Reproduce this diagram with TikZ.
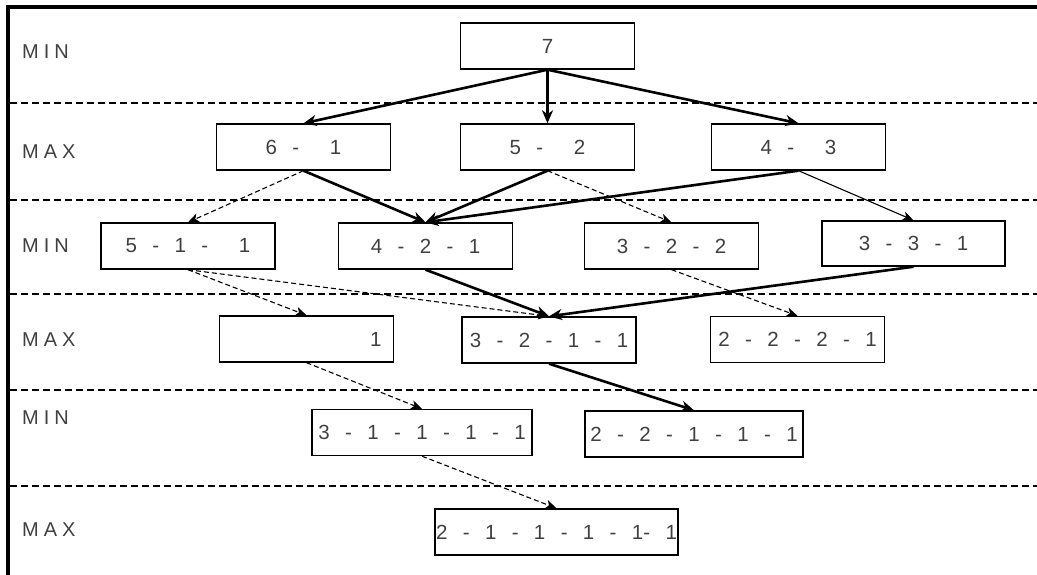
\documentclass[tikz,border=0pt]{standalone}
\usepackage{fontspec}
\setmainfont{Liberation Sans}
\newfontfamily\statefont[WordSpace=2.7]{Liberation Sans}
\newfontfamily\levelfont[LetterSpace=25]{Liberation Sans}
\usetikzlibrary{arrows.meta}

\begin{document}
\begin{tikzpicture}[x=1pt, y=-1pt,
  state/.style={draw, line width=1.4pt, minimum width=174pt, minimum height=46pt,
    inner sep=0pt, text=black!75, font=\statefont\fontsize{20.5}{24}\selectfont},
  best/.style={-{Stealth[length=13pt,width=11pt,inset=4pt]}, line width=2.6pt},
  plain/.style={-{Stealth[length=11pt,width=9pt,inset=3pt]}, line width=1.1pt},
  other/.style={plain, dash pattern=on 5pt off 3pt},
  level/.style={anchor=west, inner sep=0pt, text=black!75,
    font=\levelfont\fontsize{20}{24}\selectfont}]

  \useasboundingbox (0,0) rectangle (1037,575);

  \draw[line width=4.5pt] (8,575) -- (8,7) -- (1037,7);
  \foreach \y in {103,200,294,390,486}
    \draw[line width=1.2pt, dash pattern=on 7pt off 4pt] (10,\y) -- (1037,\y);

  \node[level] (lv1) at (22,52) {MIN};
  \node[level] (lv2) at (22,152) {MAX};
  \node[level] (lv3) at (22,246) {MIN};
  \node[level] (lv4) at (22,340) {MAX};
  \node[level] (lv5) at (22,418) {MIN};
  \node[level] (lv6) at (22,530) {MAX};

  \node[state] (n7) at (547.5,46) {7};

  \node[state] (n61) at (303.5,147) {6 -\ \ 1};
  \node[state] (n52) at (547.5,147) {5 -\ \ 2};
  \node[state] (n43) at (798.5,147) {4 -\ \ 3};

  \node[state] (n511) at (188,246) {5 - 1 -\ \ 1};
  \node[state] (n421) at (425.5,246) {4 - 2 - 1};
  \node[state] (n322) at (671.5,246) {3 - 2 - 2};
  \node[state, minimum width=183pt, minimum height=45pt] (n331) at (913.5,243.5) {3 - 3 - 1};

  \node[state, text width=150pt, align=right] (n1) at (306.5,339) {1};
  \node[state] (n3211) at (549,340) {3 - 2 - 1 - 1};
  \node[state] (n2221) at (797.5,339.5) {2 - 2 - 2 - 1};

  \node[state, minimum width=220pt] (n31111) at (422,432.5) {3 - 1 - 1 - 1 - 1};
  \node[state, minimum width=218pt] (n22111) at (694,434) {2 - 2 - 1 - 1 - 1};

  \node[state, minimum width=243pt] (n211111) at (556.5,532) {2 - 1 - 1 - 1 - 1- 1};

  \draw[best] (n7.south) -- (n61.north);
  \draw[best] (n7.south) -- (n52.north);
  \draw[best] (n7.south) -- (n43.north);

  \draw[best] (n61.south) -- (n421.north);
  \draw[best] (n52.south) -- (n421.north);
  \draw[best] (n43.south) -- (n421.north);
  \draw[plain] (n43.south) -- (n331.north);
  \draw[other] (n61.south) -- (n511.north);
  \draw[other] (n52.south) -- (n322.north);

  \draw[best] (n421.south) -- (n3211.north);
  \draw[best] (n331.south) -- (n3211.north);
  \draw[other] (n511.south) -- (n1.north);
  \draw[other] (n511.south) -- (n3211.north);
  \draw[other] (n322.south) -- (n2221.north);

  \draw[other] (n1.south) -- (n31111.north);
  \draw[best] (n3211.south) -- (n22111.north);

  \draw[other] (n31111.south) -- (n211111.north);

\end{tikzpicture}
\end{document}
